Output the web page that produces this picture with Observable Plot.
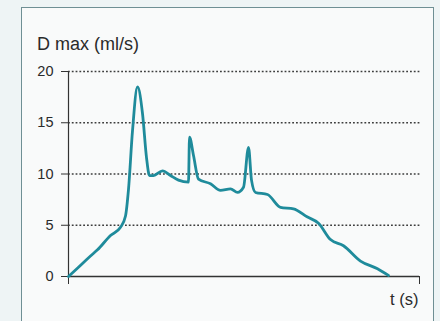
<!DOCTYPE html>
<html>
<head>
<meta charset="utf-8">
<script src="https://cdn.jsdelivr.net/npm/d3@7"></script>
<script src="https://cdn.jsdelivr.net/npm/@observablehq/plot@0.6"></script>
<style>
  html, body { margin: 0; padding: 0; }
  body { width: 440px; height: 321px; overflow: hidden; background: #eef4f5; font-family: "Liberation Sans", Arial, sans-serif; }
  #wrap { position: relative; width: 440px; height: 321px; }
  #frame { position: absolute; left: 21px; top: 7px; width: 411px; height: 330px; border: 1.5px solid #6f8f94; background: #f9fafa; }
  #chart { position: absolute; left: 0; top: 0; }
  #ylabel { position: absolute; left: 37px; top: 35px; font-size: 18px; line-height: 1; color: #2a2a2a; }
  #xlabel { position: absolute; left: 390px; top: 291px; font-size: 16.5px; line-height: 1; color: #2a2a2a; }
</style>
</head>
<body>
<div id="wrap">
  <div id="frame"></div>
  <div id="chart"></div>
  <div id="ylabel">D max (ml/s)</div>
  <div id="xlabel">t (s)</div>
</div>
<script>
const time = [0, 1.0, 2.2, 2.9, 4.2, 5.2, 5.7, 6.0, 6.4, 6.9, 7.4, 7.8, 8.1, 8.5, 9.4, 10.2, 11.0, 12.0, 12.1, 12.5, 13.0, 14.2, 15.2, 16.2, 16.9, 17.5, 18.0, 18.3, 18.7, 19.9, 21.2, 22.5, 23.9, 25.0, 26.2, 27.5, 29.2, 30.9, 32.0];
const flow = [0, 0.9, 2.0, 2.6, 4.0, 4.8, 5.9, 8.5, 14.2, 18.5, 15.9, 11.6, 9.85, 9.85, 10.3, 9.85, 9.4, 9.2, 13.6, 11.8, 9.5, 9.05, 8.4, 8.55, 8.2, 8.7, 12.6, 9.4, 8.2, 8.0, 6.75, 6.6, 5.8, 5.2, 3.6, 3.0, 1.5, 0.75, 0.1];
const yTicks = [0, 5, 10, 15, 20];
const gridValues = [5, 10, 15, 20];
const xDomain = [0, 35.1];

const data = time.map((t, i) => ({t, v: flow[i]}));

const chart = Plot.plot({
  width: 440,
  height: 321,
  marginLeft: 68,
  marginRight: 21,
  marginTop: 71,
  marginBottom: 45,
  style: {background: "transparent", fontFamily: "'Liberation Sans', Arial, sans-serif", fontSize: "14.5px", color: "#2a2a2a"},
  x: {domain: xDomain},
  y: {domain: [0, 20]},
  marks: [
    Plot.ruleY(gridValues, {x1: xDomain[0], x2: xDomain[1] + 0.1, stroke: "#333", strokeWidth: 1.4, strokeDasharray: "1.8,2", strokeOpacity: 0.95}),
    Plot.axisY({ticks: yTicks, tickSize: 7, tickPadding: 8, label: null, stroke: "#333", fill: "#2a2a2a", fontSize: 14.5}),
    Plot.axisX({ticks: xDomain, tickSize: 8, tickFormat: () => "", label: null, stroke: "#333"}),
    Plot.ruleX([0], {stroke: "#333", strokeWidth: 1.2}),
    Plot.ruleY([0], {stroke: "#333", strokeWidth: 1.4}),
    Plot.line(data, {x: "t", y: "v", stroke: "#1f8b9b", strokeWidth: 2.8, curve: "monotone-x"})
  ]
});
document.getElementById("chart").appendChild(chart);
</script>
</body>
</html>
